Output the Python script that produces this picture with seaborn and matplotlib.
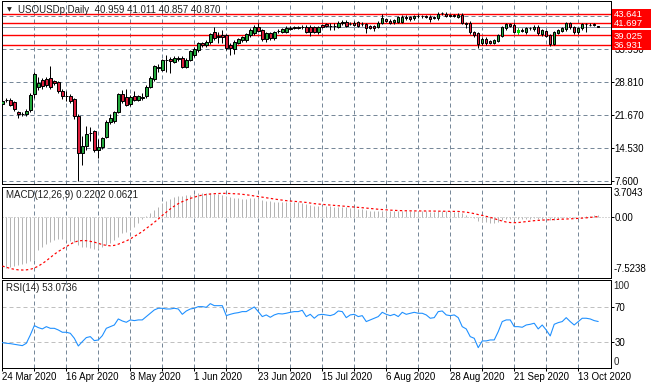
import numpy as np
import pandas as pd
import seaborn as sns
import matplotlib.pyplot as plt
from matplotlib.patches import Rectangle
from matplotlib.transforms import blended_transform_factory

# USOUSDp daily bars (24 Mar 2020 .. 20 Oct 2020)
opens = [
    24.11, 25.00, 24.98, 24.47, 22.30, 21.95, 21.93, 22.80, 26.29, 27.89,
    29.30, 29.50, 29.78, 29.00, 28.84, 27.00, 25.93, 25.90, 25.20, 21.57,
    13.57, 15.03, 17.90, 18.30, 14.30, 14.88, 16.99, 20.33, 20.40, 22.44,
    26.29, 25.57, 24.11, 25.93, 25.06, 25.50, 25.78, 27.89, 29.57, 32.00,
    31.53, 33.60, 33.90, 33.20, 34.10, 34.15, 32.11, 33.71, 34.65, 35.75,
    37.30, 36.84, 37.42, 39.60, 38.80, 39.02, 39.02, 36.84, 36.11, 37.34,
    38.00, 37.93, 39.02, 39.38, 40.83, 40.11, 38.07, 39.40, 38.30, 39.80,
    39.74, 39.74, 40.40, 40.60, 40.70, 40.75, 40.83, 40.83, 40.69, 39.60,
    41.20, 41.42, 40.95, 41.00, 40.83, 41.93, 41.93, 41.40, 41.70, 41.78,
    41.40, 41.42, 40.98, 40.98, 40.83, 41.71, 42.43, 42.14, 41.80, 41.93,
    41.93, 43.02, 42.87, 42.65, 43.10, 43.15, 43.05, 43.02, 42.80, 42.65,
    43.70, 43.60, 43.20, 43.25, 42.87, 43.45, 41.71, 41.71, 39.74, 39.38,
    37.20, 38.15, 37.78, 37.34, 37.70, 38.80, 40.47, 41.42, 41.20, 39.74,
    39.90, 39.60, 40.45, 40.25, 40.83, 39.24, 39.96, 39.02, 37.05, 39.53,
    39.89, 40.25, 41.56, 40.69, 39.60, 40.47, 41.40, 41.20, 41.35, 40.959,
]
highs = [
    25.42, 25.50, 25.40, 24.80, 22.60, 22.50, 23.10, 26.60, 31.02, 30.00,
    29.80, 30.00, 32.26, 29.40, 29.20, 27.40, 27.00, 26.30, 25.40, 22.00,
    17.21, 19.39, 19.17, 18.60, 16.48, 17.00, 20.60, 21.90, 22.70, 26.60,
    27.20, 27.38, 26.00, 26.90, 26.10, 26.60, 28.20, 30.10, 32.60, 32.84,
    33.90, 34.65, 34.30, 34.50, 34.40, 34.50, 34.00, 35.90, 36.40, 37.50,
    37.60, 37.90, 39.40, 40.80, 39.70, 40.10, 39.30, 37.20, 37.90, 38.40,
    38.90, 39.50, 40.47, 41.20, 41.56, 40.40, 39.70, 39.70, 39.90, 40.30,
    40.60, 40.90, 40.90, 41.00, 41.00, 41.20, 41.10, 41.10, 41.00, 41.00,
    41.50, 41.70, 41.56, 41.56, 42.00, 42.20, 42.20, 41.80, 42.00, 42.10,
    41.80, 41.70, 41.30, 41.30, 42.00, 43.60, 42.70, 42.40, 42.50, 43.20,
    43.30, 43.30, 43.10, 43.40, 43.50, 43.40, 43.30, 43.30, 43.20, 43.90,
    44.10, 43.90, 43.50, 43.50, 43.70, 43.70, 41.90, 42.00, 40.00, 39.60,
    38.50, 38.50, 38.00, 38.20, 39.30, 41.00, 41.71, 41.70, 41.56, 40.47,
    40.50, 40.80, 40.80, 41.10, 41.10, 40.40, 40.20, 39.30, 40.00, 40.40,
    40.80, 41.80, 41.90, 41.00, 40.80, 41.70, 41.70, 41.60, 41.60, 41.011,
]
lows = [
    23.53, 24.50, 23.60, 22.60, 21.20, 21.60, 21.60, 22.40, 25.50, 27.20,
    27.40, 27.80, 27.40, 28.20, 26.50, 25.30, 24.70, 24.40, 20.80, 7.60,
    11.03, 14.30, 16.12, 13.80, 12.48, 14.50, 16.70, 19.90, 20.10, 22.10,
    24.30, 23.60, 23.80, 24.70, 24.70, 25.00, 25.50, 27.60, 29.20, 31.02,
    31.20, 31.00, 30.80, 32.90, 33.50, 31.80, 31.80, 33.40, 34.30, 35.40,
    36.50, 36.50, 37.10, 38.00, 37.20, 37.20, 35.75, 34.65, 35.00, 37.00,
    37.60, 37.60, 38.65, 39.10, 39.60, 37.80, 37.60, 38.00, 38.00, 39.40,
    39.50, 39.50, 40.10, 40.30, 40.30, 40.40, 39.50, 38.80, 39.40, 39.30,
    40.50, 40.70, 40.11, 40.11, 40.50, 41.30, 40.70, 41.10, 40.90, 40.70,
    41.00, 39.38, 40.30, 39.96, 40.50, 41.40, 41.90, 41.40, 41.50, 41.60,
    41.70, 42.30, 42.10, 42.30, 42.80, 42.80, 42.70, 41.93, 42.50, 42.30,
    43.40, 42.90, 42.90, 42.90, 42.60, 41.40, 40.47, 39.30, 38.70, 36.33,
    36.90, 36.90, 37.10, 37.00, 37.50, 38.50, 40.20, 40.70, 39.38, 39.16,
    39.60, 39.30, 40.20, 40.00, 39.10, 38.90, 38.51, 36.70, 36.80, 39.20,
    39.60, 40.00, 40.40, 39.30, 39.30, 40.20, 39.60, 40.90, 41.00, 40.857,
]
closes = [
    24.84, 25.06, 23.97, 23.02, 21.95, 22.05, 22.66, 26.15, 30.51, 28.70,
    28.00, 28.20, 27.75, 28.60, 26.88, 25.78, 25.85, 24.84, 21.57, 13.57,
    15.03, 17.72, 17.95, 14.30, 14.88, 16.70, 20.33, 21.06, 22.44, 26.29,
    24.69, 23.97, 25.57, 24.98, 25.78, 25.60, 27.89, 29.78, 32.26, 32.11,
    33.56, 33.70, 33.40, 34.15, 33.80, 32.11, 33.71, 35.60, 36.11, 37.20,
    36.90, 37.56, 39.16, 38.29, 38.50, 38.51, 36.33, 36.33, 37.56, 38.07,
    38.60, 39.16, 40.11, 40.83, 39.96, 38.07, 39.38, 38.30, 39.60, 39.96,
    40.25, 40.54, 40.50, 40.70, 40.65, 40.85, 39.74, 39.60, 39.74, 40.69,
    40.83, 40.98, 41.00, 40.95, 41.71, 41.60, 40.98, 41.45, 41.20, 40.98,
    41.45, 40.47, 40.60, 40.47, 41.71, 42.65, 42.14, 41.71, 42.29, 42.87,
    43.02, 42.65, 42.43, 43.16, 43.20, 43.10, 43.00, 42.43, 42.90, 43.60,
    43.75, 43.16, 43.25, 43.20, 43.45, 41.71, 41.42, 39.60, 39.02, 37.05,
    38.15, 37.20, 37.34, 37.93, 39.02, 40.69, 41.42, 40.98, 39.74, 40.11,
    40.20, 40.47, 40.50, 40.83, 39.38, 40.11, 38.87, 37.05, 39.74, 40.11,
    40.47, 41.56, 40.69, 39.60, 40.47, 41.42, 41.45, 41.25, 41.30, 40.870,
]

# MACD(12,26,9): main histogram and signal line
macd_main = [
    -6.46, -6.34, -6.21, -6.05, -5.93, -5.80, -5.64, -5.39, -5.31, -4.07,
    -3.66, -3.33, -3.04, -2.84, -2.76, -2.76, -2.84, -2.92, -3.04, -3.46,
    -3.66, -3.74, -3.87, -3.95, -3.99, -3.66, -3.46, -3.17, -2.84, -2.43,
    -2.02, -1.81, -1.60, -1.19, -0.70, -0.29, 0.12, 0.45, 0.87, 1.28,
    1.69, 2.02, 2.26, 2.51, 2.63, 2.63, 2.68, 2.76, 2.84, 2.92,
    2.92, 2.92, 2.92, 2.84, 2.84, 2.76, 2.59, 2.43, 2.35, 2.30,
    2.26, 2.26, 2.30, 2.35, 2.30, 2.10, 2.02, 1.93, 1.89, 1.85,
    1.85, 1.85, 1.85, 1.85, 1.81, 1.77, 1.60, 1.48, 1.36, 1.36,
    1.36, 1.36, 1.32, 1.28, 1.28, 1.28, 1.19, 1.15, 1.07, 1.03,
    0.99, 0.87, 0.78, 0.70, 0.70, 0.78, 0.74, 0.70, 0.70, 0.74,
    0.78, 0.78, 0.74, 0.78, 0.78, 0.78, 0.74, 0.66, 0.62, 0.70,
    0.74, 0.70, 0.66, 0.62, 0.62, 0.45, 0.29, 0.04, -0.16, -0.45,
    -0.58, -0.66, -0.70, -0.70, -0.62, -0.41, -0.29, -0.25, -0.25, -0.25,
    -0.25, -0.21, -0.21, -0.16, -0.21, -0.25, -0.29, -0.41, -0.33, -0.25,
    -0.16, -0.04, -0.04, -0.08, -0.04, 0.04, 0.12, 0.17, 0.21, 0.2202,
]
macd_signal = [
    -6.05, -6.20, -6.35, -6.45, -6.52, -6.54, -6.52, -6.45, -6.30, -6.05,
    -5.75, -5.40, -5.00, -4.60, -4.25, -3.95, -3.65, -3.35, -3.10, -2.95,
    -2.90, -2.92, -3.00, -3.10, -3.25, -3.40, -3.50, -3.55, -3.50, -3.35,
    -3.15, -2.95, -2.70, -2.40, -2.10, -1.80, -1.40, -1.05, -0.65, -0.25,
    0.20, 0.60, 1.00, 1.35, 1.65, 1.90, 2.10, 2.30, 2.45, 2.60,
    2.70, 2.78, 2.84, 2.88, 2.90, 2.92, 2.92, 2.90, 2.88, 2.85,
    2.80, 2.75, 2.68, 2.60, 2.52, 2.45, 2.38, 2.30, 2.22, 2.15,
    2.08, 2.02, 1.98, 1.94, 1.90, 1.85, 1.80, 1.72, 1.65, 1.60,
    1.56, 1.52, 1.48, 1.44, 1.40, 1.36, 1.32, 1.28, 1.24, 1.20,
    1.15, 1.10, 1.05, 1.00, 0.96, 0.92, 0.88, 0.85, 0.82, 0.80,
    0.78, 0.77, 0.76, 0.76, 0.75, 0.75, 0.75, 0.74, 0.73, 0.72,
    0.72, 0.71, 0.70, 0.70, 0.69, 0.65, 0.60, 0.52, 0.42, 0.30,
    0.20, 0.08, -0.04, -0.20, -0.35, -0.50, -0.62, -0.68, -0.70, -0.68,
    -0.62, -0.56, -0.50, -0.45, -0.41, -0.38, -0.35, -0.33, -0.31, -0.29,
    -0.27, -0.25, -0.22, -0.20, -0.17, -0.14, -0.10, -0.05, 0.00, 0.0621,
]

# RSI(14)
rsi = [
    28.9, 28.2, 27.8, 27.0, 26.3, 25.5, 28.2, 37.7, 48.4, 46.1,
    44.6, 47.2, 45.3, 45.3, 43.4, 40.8, 40.8, 39.6, 33.9, 25.1,
    30.1, 34.7, 35.8, 31.2, 32.0, 36.9, 45.3, 47.2, 49.1, 56.0,
    53.7, 52.2, 54.9, 54.1, 54.9, 54.9, 58.7, 62.5, 66.3, 68.2,
    68.2, 67.4, 67.4, 68.2, 67.4, 61.3, 65.1, 67.4, 68.2, 70.1,
    70.1, 69.3, 73.5, 71.2, 71.2, 71.2, 59.8, 61.3, 62.5, 63.2,
    64.4, 64.4, 67.1, 69.7, 64.4, 58.7, 60.6, 57.9, 60.6, 62.1,
    61.7, 62.5, 63.6, 64.4, 64.4, 65.9, 58.7, 61.3, 56.8, 60.6,
    61.3, 60.6, 59.8, 61.3, 65.1, 64.4, 57.5, 60.6, 61.3, 58.7,
    59.8, 53.0, 54.9, 56.8, 58.7, 63.6, 61.3, 59.8, 61.3, 58.7,
    63.6, 61.3, 62.5, 63.6, 62.5, 62.5, 60.6, 56.8, 57.5, 64.4,
    65.1, 60.6, 59.8, 60.6, 57.5, 47.2, 44.6, 35.8, 33.9, 23.2,
    30.9, 30.9, 32.0, 32.0, 41.5, 53.0, 54.9, 54.9, 47.2, 47.2,
    46.5, 49.1, 49.9, 51.1, 44.6, 49.1, 43.4, 36.6, 49.9, 51.8,
    53.0, 57.5, 53.0, 49.1, 53.0, 56.8, 56.8, 56.0, 54.1, 53.0736,
]

price_ticks = [7.600, 14.530, 21.670, 28.810, 35.950, 43.090]
levels = [43.641, 41.697, 39.025, 36.931]
bid = 40.870
macd_bottom, macd_top = -7.5238, 3.7043
date_labels = ['24 Mar 2020', '16 Apr 2020', '8 May 2020', '1 Jun 2020', '23 Jun 2020',
               '15 Jul 2020', '6 Aug 2020', '28 Aug 2020', '21 Sep 2020', '13 Oct 2020']

W, H = 651, 389
FS = 7
PX = 0.72  # one pixel in points

sns.set_theme(style='white')
plt.rcParams['font.family'] = ['Liberation Sans', 'DejaVu Sans']
plt.rcParams['axes.edgecolor'] = 'black'
plt.rcParams['axes.linewidth'] = PX

df = pd.DataFrame({'o': opens, 'h': highs, 'l': lows, 'c': closes,
                   'macd': macd_main, 'signal': macd_signal, 'rsi': rsi})
df['i'] = np.arange(len(df))
n = len(df)


def fig_box(left, top, right, bottom):
    return [left / W, 1 - bottom / H, (right - left) / W, (bottom - top) / H]


fig = plt.figure(figsize=(W / 100, H / 100), dpi=100, facecolor='white')
ax_p = fig.add_axes(fig_box(1.5, 1, 611, 184))
ax_m = fig.add_axes(fig_box(1.5, 187, 611, 278))
ax_r = fig.add_axes(fig_box(1.5, 280.45, 611, 367.95))

xlim = (-0.21, 152.2)
grid_kw = dict(color='#778899', lw=PX, linestyle=(0, (4, 3)), zorder=1)
for ax in (ax_p, ax_m, ax_r):
    ax.set_xlim(*xlim)
    ax.set_facecolor('white')
    for x in range(8, 152, 8):
        ax.axvline(x, **grid_kw)
    for s in ax.spines.values():
        s.set_color('black')
        s.set_linewidth(PX)

# ---- price panel ----
ax_p.set_ylim(6.85, 46.38)
for y in price_ticks:
    ax_p.axhline(y, **grid_kw)
for lv in levels:
    ax_p.axhline(lv, color='red', lw=1.0, zorder=2)
ax_p.axhline(bid, color='#8a97a6', lw=PX, zorder=2)

up = df.c > df.o
body_lo = np.minimum(df.o, df.c)
body_h = (df.c - df.o).abs()
colors = np.where(up, '#22a83c', '#dc1e3c')
ax_p.vlines(df.i, df.l, df.h, color='black', lw=PX, zorder=3)
ax_p.bar(df.i, body_h, bottom=body_lo, width=0.62, color=colors,
         edgecolor='black', linewidth=PX, zorder=4)
# the lime-coloured bar of 28 Sep
k = 129
ax_p.vlines(k, lows[k], highs[k], color='#00e000', lw=PX, zorder=5)
ax_p.bar(k, body_h[k], bottom=body_lo[k], width=0.62, color='#00e000',
         edgecolor='#00e000', linewidth=PX, zorder=5)

# the top grid label sits under the level boxes in the reference, so it stays blank
ax_p.yaxis.tick_right()
ax_p.set_yticks(price_ticks)
ax_p.set_yticklabels([f'{v:.3f}' for v in price_ticks[:-1]] + [''])
ax_p.tick_params(axis='y', direction='out', length=1.8, width=PX, pad=0.8,
                 labelsize=FS, colors='black')
ax_p.tick_params(axis='x', bottom=False, labelbottom=False)

tr = blended_transform_factory(ax_p.transAxes, ax_p.transData)
box_h = 10 / 4.629
for lv in levels:
    ax_p.add_patch(Rectangle((1.0015, lv - box_h / 2), 0.07, box_h, transform=tr,
                             facecolor='#ff0000', edgecolor='none', clip_on=False, zorder=10))
for lv in levels:
    ax_p.text(1.0045, lv, f'{lv:.3f}', transform=tr, color='white', fontsize=6.8,
              va='center_baseline', ha='left', zorder=11, clip_on=False)

fig.text(9 / W, 1 - 10 / H, '▼', fontsize=4.5, family='DejaVu Sans', color='#202020',
         ha='center', va='center')
fig.text(18 / W, 1 - 10 / H,
         f'USOUSDp,Daily  {opens[-1]:.3f} {highs[-1]:.3f} {lows[-1]:.3f} {closes[-1]:.3f}',
         fontsize=FS, color='#202020', va='center', ha='left')

# ---- MACD panel ----
ax_m.set_ylim(macd_bottom, macd_top)
ax_m.axhline(0, color='#b0b0b0', lw=PX, linestyle=(0, (1, 2)), zorder=1)
ax_m.vlines(df.i, 0, df.macd, color='#b4b4b4', lw=PX, zorder=2)
sns.lineplot(data=df, x='i', y='signal', ax=ax_m, color='red', lw=PX * 1.2,
             linestyle=(0, (2, 2)), zorder=3)
ax_m.set_xlabel('')
ax_m.set_ylabel('')
ax_m.yaxis.tick_right()
ax_m.set_yticks([0])
ax_m.set_yticklabels(['0.00'])
ax_m.tick_params(axis='y', direction='out', length=1.8, width=PX, pad=0.8,
                 labelsize=FS, colors='black')
ax_m.tick_params(axis='x', bottom=False, labelbottom=False)
trm = blended_transform_factory(ax_m.transAxes, ax_m.transData)
ax_m.text(1.0045, macd_top - 6.3 / 8.1, f'{macd_top:.4f}', transform=trm, fontsize=FS,
          va='center', ha='left', color='black')
ax_m.text(1.0045, macd_bottom + 8.7 / 8.1, f'{macd_bottom:.4f}', transform=trm, fontsize=FS,
          va='center', ha='left', color='black')
fig.text(6 / W, 1 - 194.5 / H, f'MACD(12,26,9) {macd_main[-1]:.4f} {macd_signal[-1]:.4f}',
         fontsize=FS, color='#202020', va='center', ha='left')

# ---- RSI panel ----
ax_r.set_ylim(0, 100)
for y in (70, 30):
    ax_r.axhline(y, color='#c0c0c0', lw=PX, linestyle=(0, (4, 3)), zorder=1)
sns.lineplot(data=df, x='i', y='rsi', ax=ax_r, color='#1e90ff', lw=PX * 1.1, zorder=3)
ax_r.set_xlabel('')
ax_r.set_ylabel('')
ax_r.yaxis.tick_right()
ax_r.set_yticks([70, 30])
ax_r.set_yticklabels(['70', '30'])
ax_r.tick_params(axis='y', direction='out', length=1.8, width=PX, pad=0.8,
                 labelsize=FS, colors='black')
trr = blended_transform_factory(ax_r.transAxes, ax_r.transData)
ax_r.text(1.0045, 100 - 5.3 / 0.875, '100', transform=trr, fontsize=FS, va='center', ha='left')
ax_r.text(1.0045, 6.3 / 0.875, '0', transform=trr, fontsize=FS, va='center', ha='left')
fig.text(6 / W, 1 - 288 / H, f'RSI(14) {rsi[-1]:.4f}', fontsize=FS, color='#202020',
         va='center', ha='left')

tick_pos = list(range(0, n + 2, 8))
ax_r.set_xticks(tick_pos)
labels = []
for j, t in enumerate(tick_pos):
    labels.append(date_labels[j // 2] if j % 2 == 0 and j // 2 < len(date_labels) else '')
ax_r.set_xticklabels(labels, ha='left')
ax_r.tick_params(axis='x', direction='out', length=2, width=PX, pad=1.2,
                 labelsize=FS, colors='black', bottom=True)
ax_r.set_xlim(*xlim)

fig.savefig('out.png', dpi=100, facecolor='white')
